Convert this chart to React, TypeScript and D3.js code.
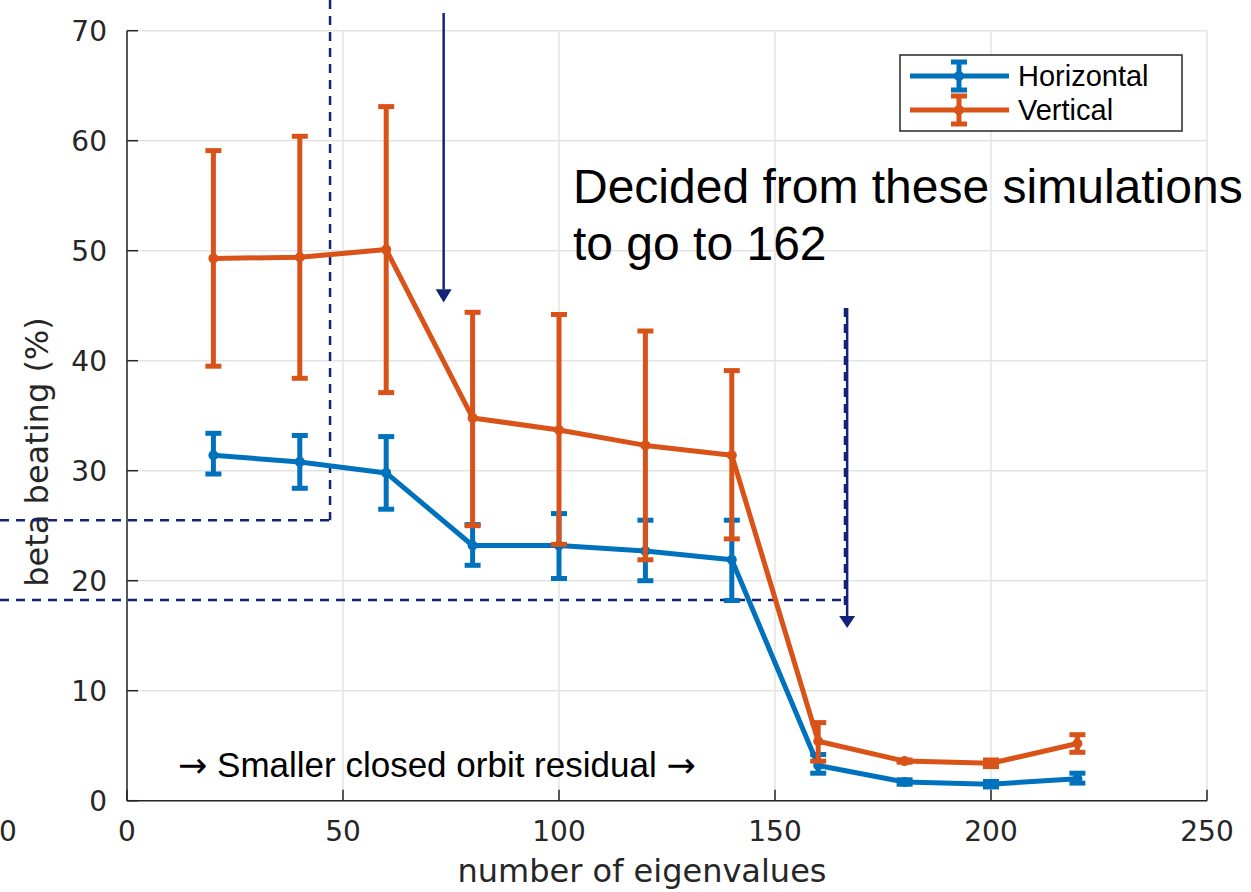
import React from "react";
import * as d3 from "d3";

const eigen = [20, 40, 60, 80, 100, 120, 140, 160, 180, 200, 220];
const horizMean = [31.4, 30.8, 29.8, 23.2, 23.2, 22.7, 21.9, 3.2, 1.7, 1.5, 2.0];
const horizLow = [29.7, 28.4, 26.5, 21.4, 20.2, 20.0, 18.2, 2.5, 1.5, 1.25, 1.6];
const horizHigh = [33.4, 33.2, 33.1, 25.1, 26.1, 25.5, 25.5, 4.2, 1.9, 1.75, 2.5];
const vertMean = [49.3, 49.4, 50.1, 34.8, 33.7, 32.3, 31.4, 5.4, 3.6, 3.4, 5.2];
const vertLow = [39.5, 38.4, 37.1, 25.0, 23.3, 21.9, 23.8, 3.6, 3.5, 3.1, 4.4];
const vertHigh = [59.1, 60.4, 63.1, 44.4, 44.2, 42.7, 39.1, 7.1, 3.7, 3.7, 6.0];
const xTicks = [0, 50, 100, 150, 200, 250];
const yTicks = [0, 10, 20, 30, 40, 50, 60, 70];

const BLUE = "#0072BD";
const ORANGE = "#D95319";
const NAVY = "#13237a";

export default function App() {
  const W = 1251;
  const H = 892;
  const x = d3.scaleLinear().domain([0, 250]).range([127, 1207]);
  const y = d3.scaleLinear().domain([0, 70]).range([800.7, 30.7]);
  const line = d3
    .line<number>()
    .x((_, i) => x(eigen[i]))
    .y((d) => y(d));

  const series = [
    { name: "Horizontal", color: BLUE, mean: horizMean, lo: horizLow, hi: horizHigh },
    { name: "Vertical", color: ORANGE, mean: vertMean, lo: vertLow, hi: vertHigh },
  ];

  const cap = 8;
  const sans = "'Liberation Sans', Arial, Helvetica, sans-serif";
  const axisFont = "'DejaVu Sans', sans-serif";

  return (
    <svg width={W} height={H} style={{ position: "absolute", left: 0, top: 0 }} fontFamily={sans}>
      <rect width={W} height={H} fill="#fff" />
      {/* grid */}
      {xTicks.map((t) => (
        <line key={"gx" + t} x1={x(t)} x2={x(t)} y1={y(0)} y2={y(70)} stroke="#e3e3e3" strokeWidth={1.5} />
      ))}
      {yTicks.map((t) => (
        <line key={"gy" + t} x1={x(0)} x2={x(250)} y1={y(t)} y2={y(t)} stroke="#e3e3e3" strokeWidth={1.5} />
      ))}
      {/* axes */}
      <line x1={x(0)} x2={x(0)} y1={y(0)} y2={y(70)} stroke="#262626" strokeWidth={1.5} />
      <line x1={x(0)} x2={x(250)} y1={y(0)} y2={y(0)} stroke="#262626" strokeWidth={1.5} />
      <g fontFamily={axisFont} fill="#262626">
        {xTicks.map((t) => (
          <g key={"tx" + t}>
            <line x1={x(t)} x2={x(t)} y1={y(0)} y2={y(0) - 11} stroke="#262626" strokeWidth={1.5} />
            <text x={x(t)} y={841} fontSize={28} textAnchor="middle">
              {t}
            </text>
          </g>
        ))}
        {yTicks.map((t) => (
          <g key={"ty" + t}>
            <line x1={x(0)} x2={x(0) + 11} y1={y(t)} y2={y(t)} stroke="#262626" strokeWidth={1.5} />
            <text x={107} y={y(t) + 10} fontSize={28} textAnchor="end">
              {t}
            </text>
          </g>
        ))}
        <text x={8} y={841} fontSize={28} textAnchor="middle">0</text>
        <text x={642} y={882} fontSize={32} textAnchor="middle">
          number of eigenvalues
        </text>
        <text transform={`translate(48,452) rotate(-90)`} fontSize={32} textAnchor="middle">
          beta beating (%)
        </text>
      </g>

      {/* annotations */}
      <g stroke={NAVY} strokeWidth={2.5} strokeDasharray="9,7" fill="none">
        <line x1={x(47)} x2={x(47)} y1={0} y2={y(25.5)} />
        <line x1={0} x2={x(47)} y1={y(25.5)} y2={y(25.5)} />
        <line x1={0} x2={x(166.2)} y1={y(18.25)} y2={y(18.25)} />
        <line x1={x(166.2)} x2={x(166.2)} y1={y(44.8)} y2={y(17.5)} />
      </g>
      <line x1={x(166.7)} x2={x(166.7)} y1={y(44.8)} y2={y(16.8)} stroke={NAVY} strokeWidth={2.5} />
      <path d={`M${x(166.7) - 8},${y(16.8)} L${x(166.7) + 8},${y(16.8)} L${x(166.7)},${y(15.7)} Z`} fill={NAVY} />
      <line x1={x(73.3)} x2={x(73.3)} y1={13} y2={y(46.5)} stroke={NAVY} strokeWidth={2.5} />
      <path d={`M${x(73.3) - 8},${y(46.5)} L${x(73.3) + 8},${y(46.5)} L${x(73.3)},${y(45.3)} Z`} fill={NAVY} />

      <text x={573} y={203} fontSize={48} fill="#000">Decided from these simulations</text>
      <text x={573} y={260} fontSize={48} fill="#000">to go to 162</text>
      <text x={178} y={777} fontSize={35} fill="#000">
        <tspan fontFamily={axisFont}>→</tspan> Smaller closed orbit residual <tspan fontFamily={axisFont}>→</tspan>
      </text>

      {/* series */}
      {series.map((s) => (
        <g key={s.name}>
          {eigen.map((e, i) => (
            <g key={e} stroke={s.color} strokeWidth={5}>
              <line x1={x(e)} x2={x(e)} y1={y(s.lo[i])} y2={y(s.hi[i])} />
              <line x1={x(e) - cap} x2={x(e) + cap} y1={y(s.lo[i])} y2={y(s.lo[i])} />
              <line x1={x(e) - cap} x2={x(e) + cap} y1={y(s.hi[i])} y2={y(s.hi[i])} />
            </g>
          ))}
          <path d={line(s.mean) || ""} fill="none" stroke={s.color} strokeWidth={5} strokeLinejoin="round" />
          {eigen.map((e, i) => (
            <circle key={"c" + e} cx={x(e)} cy={y(s.mean[i])} r={5} fill={s.color} />
          ))}
        </g>
      ))}

      {/* legend */}
      <rect x={900} y={55} width={282} height={76} fill="#fff" stroke="#262626" strokeWidth={1.5} />
      {series.map((s, i) => {
        const ly = 76 + i * 34;
        return (
          <g key={"lg" + s.name}>
            <line x1={910} x2={1009} y1={ly} y2={ly} stroke={s.color} strokeWidth={5} />
            <line x1={959} x2={959} y1={ly - 14} y2={ly + 14} stroke={s.color} strokeWidth={5} />
            <line x1={951} x2={967} y1={ly - 14} y2={ly - 14} stroke={s.color} strokeWidth={5} />
            <line x1={951} x2={967} y1={ly + 14} y2={ly + 14} stroke={s.color} strokeWidth={5} />
            <circle cx={959} cy={ly} r={5} fill={s.color} />
            <text x={1018} y={ly + 10} fontSize={29} fill="#000">
              {s.name}
            </text>
          </g>
        );
      })}
    </svg>
  );
}
